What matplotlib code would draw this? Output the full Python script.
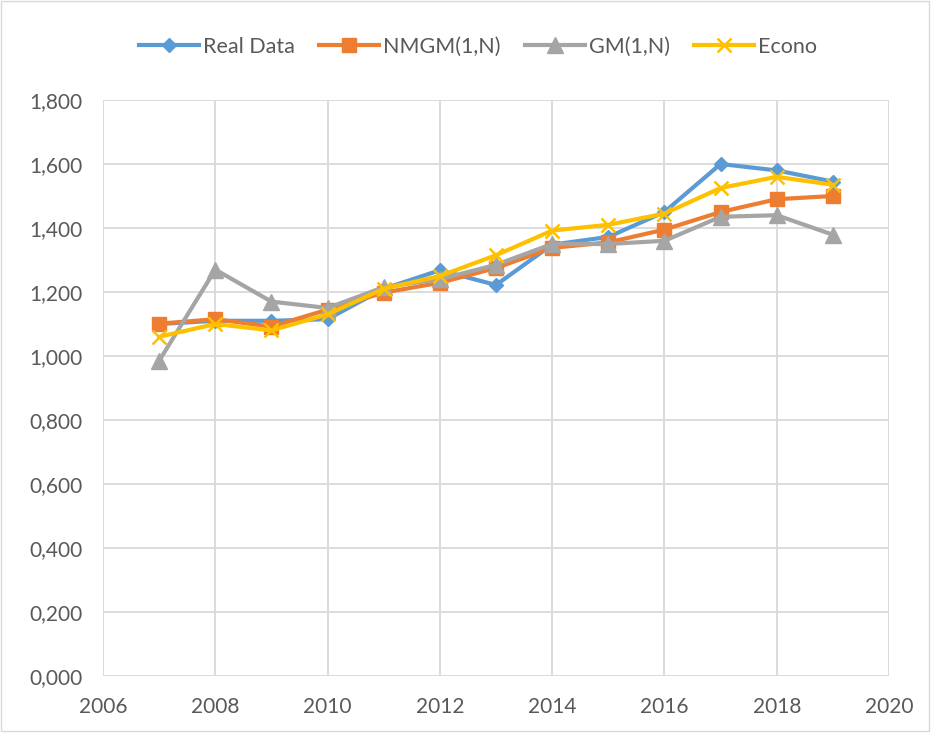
import numpy as np
import matplotlib
matplotlib.use("Agg")
import matplotlib.pyplot as plt
from matplotlib.ticker import FuncFormatter
from matplotlib.patches import Rectangle

# ============================================================
# DATA
# ============================================================
years = [2007, 2008, 2009, 2010, 2011, 2012, 2013, 2014, 2015, 2016, 2017, 2018, 2019]

real_data = [1.100, 1.110, 1.110, 1.115, 1.210, 1.268, 1.222, 1.348, 1.372, 1.450, 1.600, 1.580, 1.545]
nmgm = [1.101, 1.115, 1.092, 1.145, 1.198, 1.229, 1.275, 1.338, 1.355, 1.395, 1.450, 1.490, 1.500]
gm = [0.985, 1.270, 1.170, 1.150, 1.215, 1.240, 1.285, 1.350, 1.350, 1.360, 1.435, 1.440, 1.379]
econo = [1.060, 1.100, 1.080, 1.130, 1.210, 1.250, 1.315, 1.392, 1.410, 1.445, 1.525, 1.560, 1.535]

series_names = ["Real Data", "NMGM(1,N)", "GM(1,N)", "Econo"]

# ============================================================
# PLOTTING
# ============================================================
plt.rcParams["font.family"] = ["Lato", "DejaVu Sans"]

fig = plt.figure(figsize=(9.31, 7.34), dpi=100)
ax = fig.add_axes([103 / 931, 1 - 676 / 734, 786 / 931, 576 / 734])

styles = [
    dict(color="#5B9BD5", marker="D", ms=7.5),
    dict(color="#ED7D31", marker="s", ms=10),
    dict(color="#A5A5A5", marker="^", ms=11),
    dict(color="#FFC000", marker="x", ms=10, mew=1.8),
]

for name, vals, st in zip(series_names, [real_data, nmgm, gm, econo], styles):
    ax.plot(years, vals, lw=3, label=name, **st)

ax.set_xlim(2006, 2020)
ax.set_ylim(0, 1.8)
ax.set_xticks(range(2006, 2021, 2))
ax.set_yticks(np.arange(0, 1.81, 0.2))
ax.yaxis.set_major_formatter(FuncFormatter(lambda v, p: f"{v:.3f}".replace(".", ",")))

ax.grid(True, color="#D9D9D9", lw=1.3)
ax.set_axisbelow(True)
for s in ax.spines.values():
    s.set_visible(False)
ax.tick_params(length=0, labelsize=15, labelcolor="#595959")
ax.tick_params(axis="x", pad=15)
ax.tick_params(axis="y", pad=15)

fig.legend(loc="center", bbox_to_anchor=(478 / 931, 1 - 47 / 734), ncol=4, frameon=False,
           fontsize=15.5, labelcolor="#595959", handlelength=2.8, columnspacing=1.1,
           handletextpad=0.2)

# chart border
fig.patches.append(Rectangle((0.001, 0.004), 0.997, 0.994, transform=fig.transFigure,
                             fill=False, edgecolor="#D9D9D9", lw=1))

plt.savefig("out.png", dpi=100)
